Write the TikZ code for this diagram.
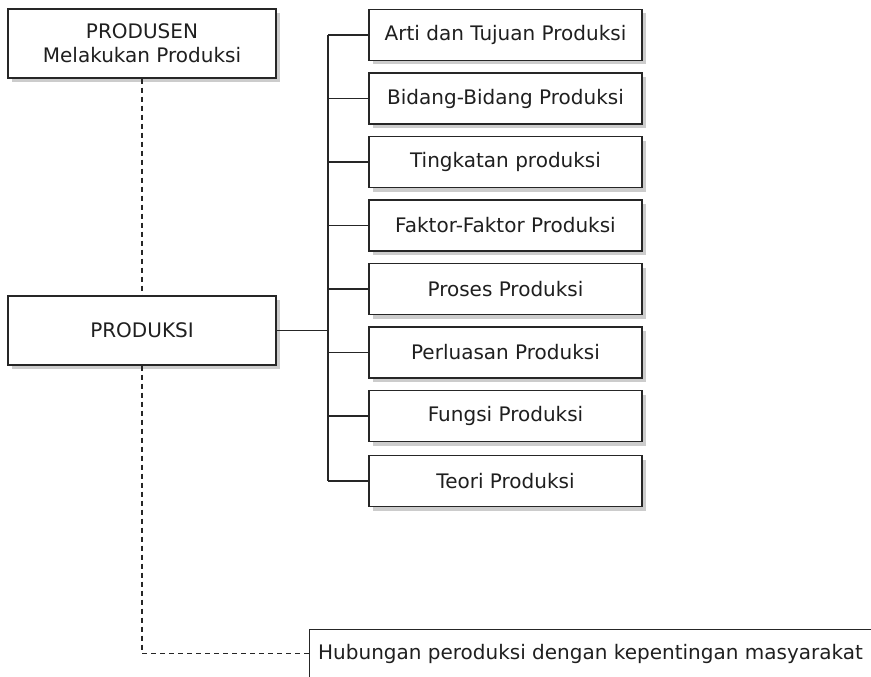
\documentclass[tikz,border=0pt]{standalone}
\usepackage{fontspec}
\setmainfont{DejaVu Sans}
\usetikzlibrary{shadows}
\begin{document}
\begin{tikzpicture}[x=1pt,y=-1pt,
  font=\fontsize{20}{24}\selectfont,
  every node/.style={text=black!88},
  box/.style={draw=black!85, line width=1.3pt, fill=white, inner sep=0pt,
    align=center,
    drop shadow={shadow xshift=4pt, shadow yshift=-4pt, fill=black!20, opacity=1}},
  topic/.style={box, minimum width=273, minimum height=51},
  link/.style={draw=black!85, line width=1.3pt},
  dashlink/.style={draw=black!85, line width=1.1pt, dash pattern=on 5pt off 4pt}]
\useasboundingbox (0,0) rectangle (871,677);

% left column
\node[box, minimum width=268, minimum height=69] (produsen) at (142,43.5)
  {PRODUSEN\\[0pt]Melakukan Produksi};
\node[box, minimum width=268, minimum height=69] (produksi) at (142,330.5) {PRODUKSI};

% topic boxes on the right
\node[topic] (b1) at (505.5,35) {Arti dan Tujuan Produksi};
\node[topic] (b2) at (505.5,98.5) {Bidang-Bidang Produksi};
\node[topic] (b3) at (505.5,162) {Tingkatan produksi};
\node[topic] (b4) at (505.5,225.5) {Faktor-Faktor Produksi};
\node[topic] (b5) at (505.5,289) {Proses Produksi};
\node[topic] (b6) at (505.5,352.5) {Perluasan Produksi};
\node[topic] (b7) at (505.5,416) {Fungsi Produksi};
\node[topic] (b8) at (505.5,481) {Teori Produksi};

% open box at the bottom
\node[inner sep=0pt, minimum width=561, minimum height=47] (hub) at (590.5,653.5)
  {Hubungan peroduksi dengan kepentingan masyarakat};
\draw[link] (hub.south west) -- (hub.north west) -- (hub.north east);

% tree connectors
\coordinate (jn) at (328,330.5);
\draw[link] (produksi.east) -- (jn);
\draw[link] (b1.west -| jn) -- (b8.west -| jn);
\foreach \i in {1,...,8} \draw[link] (b\i.west) -- (b\i.west -| jn);

% dashed relations
\draw[dashlink] (produsen.south) -- (produksi.north);
\draw[dashlink] (produksi.south) |- (hub.west);
\end{tikzpicture}
\end{document}
